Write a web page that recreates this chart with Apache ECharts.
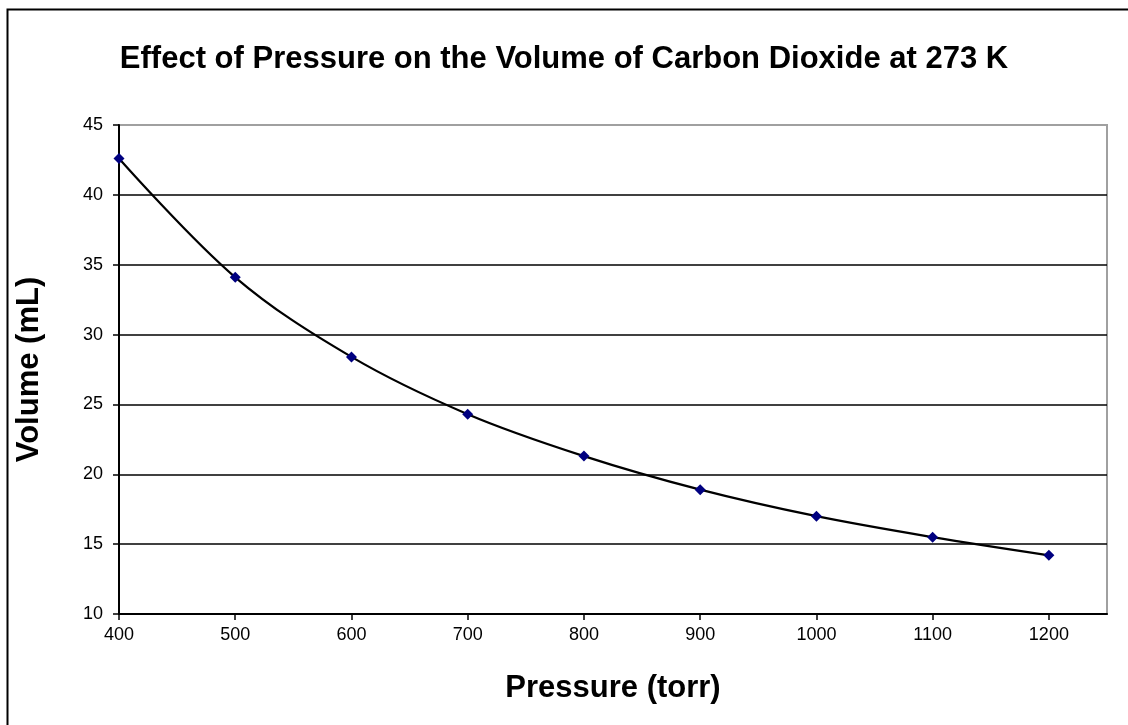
<!DOCTYPE html>
<html>
<head>
<meta charset="utf-8">
<script src="https://cdn.jsdelivr.net/npm/echarts@6/dist/echarts.min.js"></script>
<style>
html,body{margin:0;padding:0;background:#fff;}
#chart{width:1128px;height:725px;}
</style>
</head>
<body>
<div id="chart"></div>
<script>
const pressures = [400, 500, 600, 700, 800, 900, 1000, 1100, 1200];
const volumes = [42.6, 34.1, 28.4, 24.3, 21.3, 18.9, 17.0, 15.5, 14.2];
const xTicks = [400, 500, 600, 700, 800, 900, 1000, 1100, 1200];
const yTicks = [10, 15, 20, 25, 30, 35, 40, 45];
const titleText = 'Effect of Pressure on the Volume of Carbon Dioxide at 273 K';
const xName = 'Pressure (torr)';
const yName = 'Volume (mL)';

const FONT = '"Liberation Sans", Arial, sans-serif';
const chart = echarts.init(document.getElementById('chart'), null, {renderer: 'canvas'});
const data = pressures.map((p, i) => [p, volumes[i]]);

chart.setOption({
  animation: false,
  backgroundColor: '#fff',
  graphic: [{
    type: 'rect', left: 5, top: 7, z: -10, silent: true,
    shape: {width: 1300, height: 900},
    style: {fill: 'none', stroke: '#000', lineWidth: 2}
  }],
  title: {
    text: titleText, left: 'center', top: 39,
    textStyle: {fontFamily: FONT, fontWeight: 'bold', fontSize: 31, color: '#000'}
  },
  grid: {
    left: 119, top: 125, width: 988, height: 489,
    show: true, borderColor: '#a0a0a0', borderWidth: 2, backgroundColor: 'transparent'
  },
  xAxis: {
    type: 'value', min: 400, max: 1250, interval: 50,
    name: xName, nameLocation: 'middle', nameGap: 59,
    nameTextStyle: {fontFamily: FONT, fontWeight: 'bold', fontSize: 31, color: '#000'},
    axisLine: {show: true, lineStyle: {color: '#000', width: 2}},
    axisTick: {show: true, length: 6, inside: false, lineStyle: {color: '#000', width: 1.5}, customValues: xTicks},
    axisLabel: {fontFamily: FONT, fontSize: 18, color: '#000', margin: 12, customValues: xTicks,
      formatter: v => String(v)},
    splitLine: {show: false}
  },
  yAxis: {
    type: 'value', min: 10, max: 45, interval: 5,
    name: yName, nameLocation: 'middle', nameGap: 74,
    nameTextStyle: {fontFamily: FONT, fontWeight: 'bold', fontSize: 31, color: '#000'},
    axisLine: {show: true, lineStyle: {color: '#000', width: 2}},
    axisTick: {show: true, length: 6, inside: false, lineStyle: {color: '#000', width: 1.5}},
    axisLabel: {fontFamily: FONT, fontSize: 18, color: '#000', margin: 16, formatter: v => String(v)},
    splitLine: {show: true, showMinLine: false, showMaxLine: false, lineStyle: {color: '#000', width: 1.5}}
  },
  series: [{
    type: 'line', data: data, smooth: 0.35,
    lineStyle: {color: '#000', width: 2.2},
    symbol: 'diamond', symbolSize: 11,
    itemStyle: {color: '#000080'},
    z: 5
  }]
});
</script>
</body>
</html>
